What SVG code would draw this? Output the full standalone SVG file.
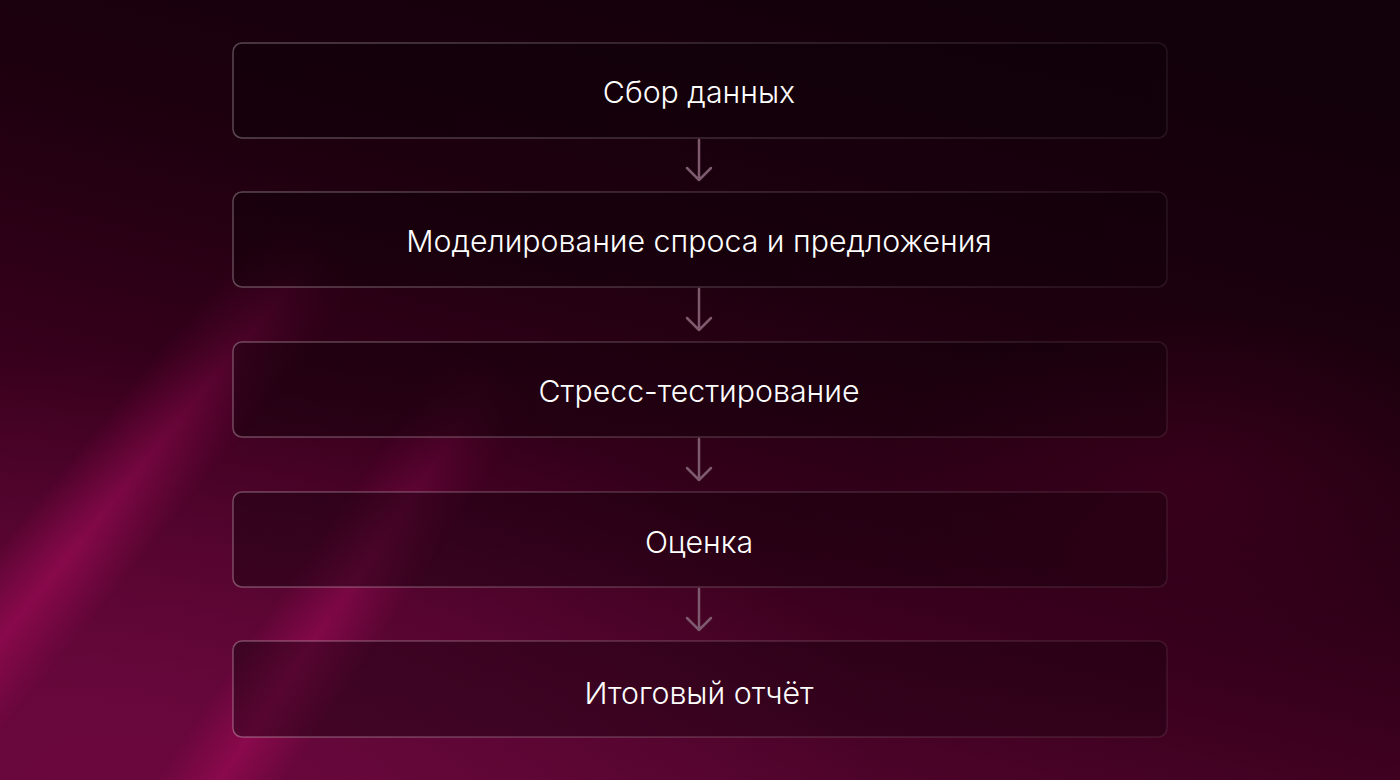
<svg xmlns="http://www.w3.org/2000/svg" width="1400" height="780" viewBox="0 0 1400 780">
<defs>
<linearGradient id="bg" x1="0.7" y1="0" x2="0.25" y2="1">
<stop offset="0" stop-color="#12000a"/>
<stop offset="0.35" stop-color="#1e000f"/>
<stop offset="0.65" stop-color="#38001c"/>
<stop offset="1" stop-color="#5a0632"/>
</linearGradient>
<radialGradient id="glowBL" cx="0.08" cy="1" r="0.55">
<stop offset="0" stop-color="#6e0840" stop-opacity="0.85"/>
<stop offset="1" stop-color="#6e0840" stop-opacity="0"/>
</radialGradient>
<radialGradient id="glowR" cx="0.85" cy="0.62" r="0.22">
<stop offset="0" stop-color="#3e001d" stop-opacity="0.7"/>
<stop offset="1" stop-color="#3e001d" stop-opacity="0"/>
</radialGradient>
<linearGradient id="across" x1="0" y1="0" x2="0" y2="1">
<stop offset="0" stop-color="#900a50" stop-opacity="0"/>
<stop offset="0.5" stop-color="#900a50" stop-opacity="0.85"/>
<stop offset="1" stop-color="#900a50" stop-opacity="0"/>
</linearGradient>
<linearGradient id="alongG" x1="0" y1="0" x2="1" y2="0">
<stop offset="0" stop-color="#fff"/>
<stop offset="0.35" stop-color="#fff"/>
<stop offset="1" stop-color="#000"/>
</linearGradient>
<mask id="along" maskContentUnits="objectBoundingBox">
<rect x="0" y="0" width="1" height="1" fill="url(#alongG)"/>
</mask>
<linearGradient id="boxStroke" x1="0" y1="0" x2="1" y2="0">
<stop offset="0" stop-color="#ffffff" stop-opacity="0.28"/>
<stop offset="0.6" stop-color="#ffffff" stop-opacity="0.15"/>
<stop offset="1" stop-color="#ffffff" stop-opacity="0.08"/>
</linearGradient>
<linearGradient id="boxFill" x1="0" y1="0" x2="1" y2="0">
<stop offset="0" stop-color="#0a0006" stop-opacity="0.4"/>
<stop offset="1" stop-color="#0a0006" stop-opacity="0.28"/>
</linearGradient>
</defs>
<style>
.box{fill:url(#boxFill);stroke:url(#boxStroke);stroke-width:1.5}
.lbl{font-family:Inter,"Noto Sans","DejaVu Sans",sans-serif;font-size:30.3px;font-weight:300;fill:#ffffff;text-anchor:middle;dominant-baseline:central}
.conn{fill:none;stroke:#7d5a6e;stroke-width:2.5;stroke-linecap:round;stroke-linejoin:round}
.streak{fill:url(#across);mask:url(#along)}
</style>
<rect width="1400" height="780" fill="url(#bg)"/>
<rect width="1400" height="780" fill="url(#glowBL)"/>
<rect width="1400" height="780" fill="url(#glowR)"/>
<g transform="translate(0,640) rotate(-50.8)">
<rect class="streak" x="-120" y="-60" width="640" height="120"/>
</g>
<g transform="translate(220,780) rotate(-55.9)">
<rect class="streak" x="-80" y="-55" width="580" height="110"/>
</g>
<g id="connectors">
<path class="conn" d="M699 140 V180 M687 168 L699 180 L711 168"/>
<path class="conn" d="M699 289 V330 M687 318 L699 330 L711 318"/>
<path class="conn" d="M699 439 V480 M687 468 L699 480 L711 468"/>
<path class="conn" d="M699 589 V630 M687 618 L699 630 L711 618"/>
</g>
<g id="node1"><rect class="box" x="233" y="43" width="934" height="95" rx="9"/><text class="lbl" x="699" y="92">Сбор данных</text></g>
<g id="node2"><rect class="box" x="233" y="192" width="934" height="95" rx="9"/><text class="lbl" x="699" y="241">Моделирование спроса и предложения</text></g>
<g id="node3"><rect class="box" x="233" y="342" width="934" height="95" rx="9"/><text class="lbl" x="699" y="391">Стресс-тестирование</text></g>
<g id="node4"><rect class="box" x="233" y="492" width="934" height="95" rx="9"/><text class="lbl" x="699" y="542">Оценка</text></g>
<g id="node5"><rect class="box" x="233" y="641" width="934" height="96" rx="9"/><text class="lbl" x="699" y="693">Итоговый отчёт</text></g>
</svg>
